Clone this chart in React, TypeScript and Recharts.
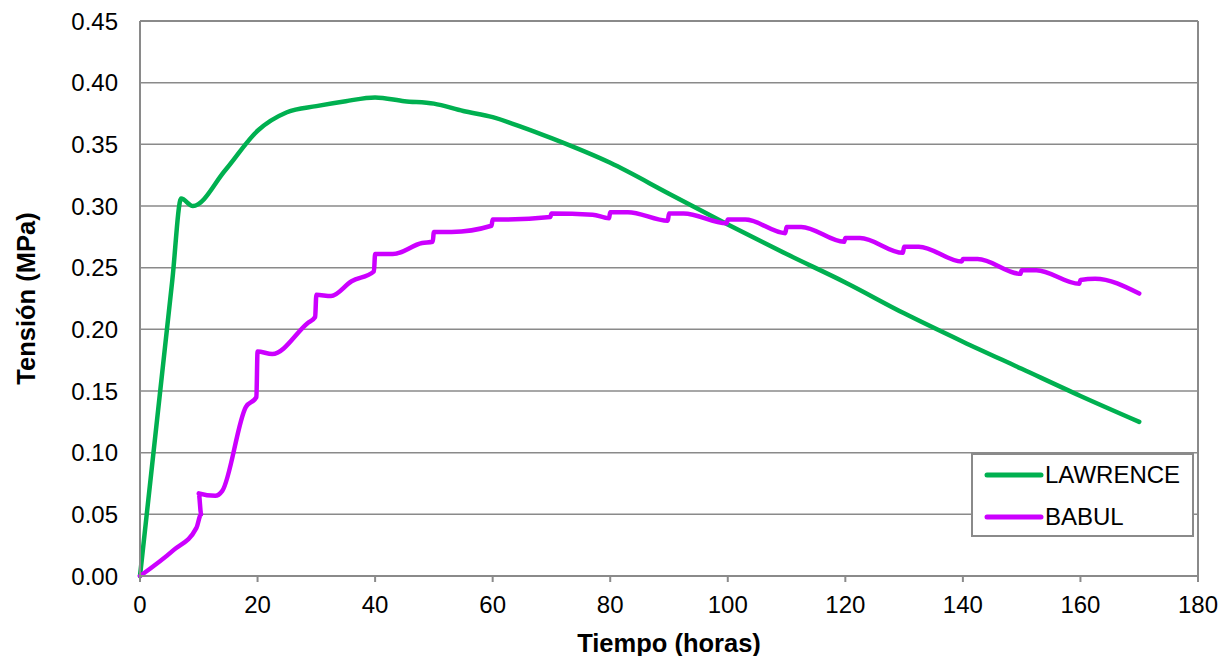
import { LineChart, Line, XAxis, YAxis, CartesianGrid, Legend, ReferenceLine, Label } from 'recharts';

// Tensile stress over time, two test series
const lawrenceHoras = [0, 5.5, 7, 9, 14.5, 20, 25, 30, 35, 40, 45, 50, 55, 60, 65, 70, 80, 90, 100, 110, 120, 130, 140, 150, 160, 170];
const lawrenceTension = [0, 0.24, 0.306, 0.3, 0.329, 0.361, 0.376, 0.381, 0.385, 0.388, 0.385, 0.383, 0.377, 0.372, 0.364, 0.355, 0.335, 0.31, 0.285, 0.261, 0.238, 0.213, 0.19, 0.168, 0.146, 0.125];

const babulHoras = [0, 5.7, 9.6, 10.4, 10, 12.8, 14, 18, 19.8, 20, 22.5, 28.5, 29.8, 30, 32.5, 36, 39.8, 40, 43, 48, 49.8, 50, 53, 59.8, 60, 62, 69.8, 70, 77, 79.8, 80, 83, 89.8, 90, 92.5, 99.8, 100, 103, 109.8, 110, 112.5, 119.8, 120, 122.5, 129.8, 130, 132.5, 139.8, 140, 142.5, 149.8, 150, 152.5, 159.8, 160, 162.5, 170];
const babulTension = [0, 0.021, 0.039, 0.05, 0.067, 0.065, 0.069, 0.137, 0.145, 0.182, 0.18, 0.205, 0.21, 0.228, 0.227, 0.239, 0.247, 0.261, 0.261, 0.27, 0.271, 0.279, 0.279, 0.284, 0.289, 0.289, 0.291, 0.294, 0.293, 0.29, 0.295, 0.295, 0.288, 0.294, 0.294, 0.286, 0.289, 0.289, 0.278, 0.283, 0.283, 0.271, 0.274, 0.274, 0.262, 0.267, 0.267, 0.255, 0.257, 0.257, 0.245, 0.248, 0.248, 0.237, 0.24, 0.241, 0.229];

const xTicks = [0, 20, 40, 60, 80, 100, 120, 140, 160, 180];
const yTicks = [0, 0.05, 0.1, 0.15, 0.2, 0.25, 0.3, 0.35, 0.4, 0.45];

const series = [
  { name: 'LAWRENCE', color: '#00B050', data: lawrenceHoras.map((x, i) => ({ x, y: lawrenceTension[i] })) },
  { name: 'BABUL', color: '#CC00FF', data: babulHoras.map((x, i) => ({ x, y: babulTension[i] })) },
];

const FONT = '"Liberation Sans", Arial, sans-serif';
const GRID = '#8a8a8a';

function LegendBox() {
  return (
    <div style={{ width: 219, height: 80, border: `2px solid ${GRID}`, background: '#fff', fontFamily: FONT, fontSize: 24, color: '#000', position: 'relative' }}>
      {series.map((s, i) => (
        <div key={s.name} style={{ position: 'absolute', left: 11, top: 6 + i * 42, height: 28, display: 'flex', alignItems: 'center' }}>
          <svg width={60} height={8} style={{ marginRight: 1 }}>
            <line x1={3} y1={4} x2={57} y2={4} stroke={s.color} strokeWidth={5} strokeLinecap="round" />
          </svg>
          <span>{s.name}</span>
        </div>
      ))}
    </div>
  );
}

export default function App() {
  return (
    <div style={{ width: 1215, height: 648, fontFamily: FONT }}>
      <LineChart width={1215} height={648} margin={{ top: 13, right: 25, left: 0, bottom: 0 }}>
        <CartesianGrid vertical={false} stroke={GRID} strokeWidth={1.5} />
        <XAxis
          type="number"
          dataKey="x"
          domain={[0, 180]}
          ticks={xTicks}
          interval={0}
          height={80}
          stroke={GRID}
          strokeWidth={2}
          tickSize={6}
          tickMargin={14}
          tick={{ fill: '#000', fontSize: 24, fontFamily: FONT }}
        >
          <Label
            content={({ viewBox }: any) => (
              <text x={viewBox.x + viewBox.width / 2} y={viewBox.y + 76} textAnchor="middle" fontSize={25.5} fontWeight="bold" fontFamily={FONT} fill="#000">
                Tiempo (horas)
              </text>
            )}
          />
        </XAxis>
        <YAxis
          type="number"
          dataKey="y"
          domain={[0, 0.45]}
          ticks={yTicks}
          interval={0}
          width={132}
          stroke={GRID}
          strokeWidth={2}
          tickLine={false}
          tickSize={0}
          tickMargin={22}
          tickFormatter={(v: number) => v.toFixed(2)}
          tick={{ fill: '#000', fontSize: 24, fontFamily: FONT }}
        >
          <Label
            content={({ viewBox }: any) => {
              const cx = 18;
              const cy = viewBox.y + viewBox.height / 2;
              return (
                <text x={cx} y={cy} transform={`rotate(-90, ${cx}, ${cy})`} textAnchor="middle" dominantBaseline="central" fontSize={25.5} fontWeight="bold" fontFamily={FONT} fill="#000">
                  Tensión (MPa)
                </text>
              );
            }}
          />
        </YAxis>
        <ReferenceLine x={180} stroke={GRID} strokeWidth={2} />
        <ReferenceLine y={0.45} stroke={GRID} strokeWidth={2} />
        {series.map((s) => (
          <Line
            key={s.name}
            data={s.data}
            dataKey="y"
            name={s.name}
            type="monotone"
            stroke={s.color}
            strokeWidth={4.5}
            strokeLinecap="round"
            strokeLinejoin="round"
            dot={false}
            activeDot={false}
            isAnimationActive={false}
          />
        ))}
        <Legend
          layout="vertical"
          align="center"
          verticalAlign="middle"
          content={() => <LegendBox />}
          wrapperStyle={{ position: 'absolute', left: 963, top: 445, width: 223, height: 84 }}
        />
      </LineChart>
    </div>
  );
}
